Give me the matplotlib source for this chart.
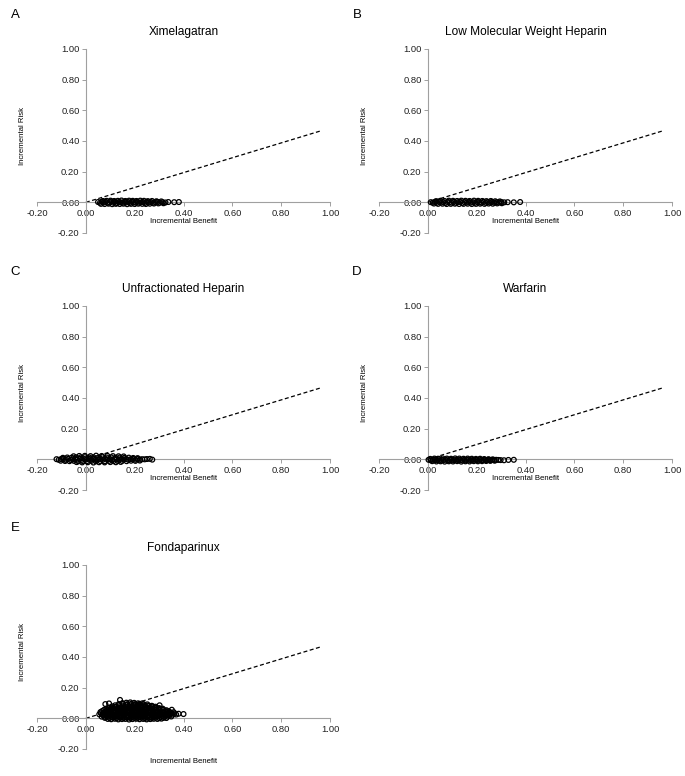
import matplotlib
matplotlib.use("Agg")
import matplotlib.pyplot as plt

plt.rcParams['font.family'] = ['Liberation Sans', 'DejaVu Sans']

# ---------------- data ----------------
titles = ["Ximelagatran", "Low Molecular Weight Heparin", "Unfractionated Heparin",
          "Warfarin", "Fondaparinux"]
letters = ["A", "B", "C", "D", "E"]
tick_values = [-0.20, 0.00, 0.20, 0.40, 0.60, 0.80, 1.00]
tick_labels = ["-0.20", "0.00", "0.20", "0.40", "0.60", "0.80", "1.00"]
threshold_benefit = [0.0, 0.96]
threshold_risk = [0.0, 0.465]

A_benefit = [0.050, 0.058, 0.066, 0.073, 0.081, 0.089, 0.096, 0.104, 0.112, 0.119, 0.127, 0.135,
             0.142, 0.150, 0.158, 0.165, 0.173, 0.181, 0.188, 0.196, 0.204, 0.211, 0.219, 0.227,
             0.234, 0.242, 0.250, 0.258, 0.266, 0.275, 0.284, 0.293, 0.303, 0.314, 0.326, 0.338,
             0.062, 0.077, 0.093, 0.108, 0.123, 0.139, 0.154, 0.169, 0.185, 0.200, 0.215, 0.231,
             0.246, 0.262, 0.279, 0.297, 0.318,
             0.070, 0.085, 0.101, 0.116, 0.131, 0.146, 0.162, 0.177, 0.192, 0.207, 0.223, 0.238,
             0.254, 0.271, 0.289, 0.309,
             0.362, 0.381]
A_risk = [0.002, -0.003, 0.004, -0.001, 0.003, -0.004, 0.001, 0.005, -0.002, 0.003, -0.005, 0.002,
          0.000, -0.003, 0.004, -0.001, 0.002, -0.004, 0.003, 0.001, -0.002, 0.004, -0.003, 0.000,
          0.002, -0.004, 0.003, -0.001, 0.002, -0.003, 0.001, 0.003, -0.002, 0.001, -0.001, 0.002,
          -0.010, -0.011, -0.009, -0.012, -0.010, -0.011, -0.009, -0.012, -0.010, -0.011, -0.009, -0.010,
          -0.011, -0.009, -0.008, -0.007, -0.006,
          0.009, 0.010, 0.011, 0.009, 0.010, 0.012, 0.009, 0.011, 0.010, 0.009, 0.011, 0.010,
          0.008, 0.009, 0.007, 0.006,
          0.001, 0.002]

B_benefit = [0.012, 0.020, 0.029, 0.037, 0.046, 0.055, 0.063, 0.072, 0.081, 0.089, 0.098, 0.107,
             0.115, 0.124, 0.133, 0.141, 0.150, 0.159, 0.167, 0.176, 0.185, 0.193, 0.202, 0.211,
             0.219, 0.228, 0.237, 0.245, 0.254, 0.263, 0.272, 0.281, 0.291, 0.301, 0.313, 0.327,
             0.025, 0.042, 0.060, 0.077, 0.094, 0.111, 0.128, 0.146, 0.163, 0.180, 0.197, 0.214,
             0.232, 0.249, 0.266, 0.284, 0.303,
             0.034, 0.051, 0.068, 0.086, 0.103, 0.120, 0.137, 0.154, 0.171, 0.189, 0.206, 0.223,
             0.240, 0.258, 0.276, 0.295,
             0.352, 0.378]
B_risk = [0.001, -0.002, 0.003, -0.003, 0.004, -0.001, 0.002, -0.004, 0.003, 0.000, -0.002, 0.004,
          -0.003, 0.001, 0.003, -0.004, 0.002, -0.001, 0.004, -0.002, 0.001, -0.003, 0.003, 0.000,
          -0.002, 0.004, -0.003, 0.002, -0.001, 0.003, -0.002, 0.001, -0.001, 0.002, 0.000, 0.001,
          -0.008, -0.010, -0.009, -0.011, -0.010, -0.009, -0.011, -0.010, -0.009, -0.011, -0.010, -0.009,
          -0.010, -0.008, -0.009, -0.007, -0.006,
          0.008, 0.010, 0.009, 0.011, 0.010, 0.009, 0.011, 0.010, 0.009, 0.011, 0.010, 0.009,
          0.008, 0.009, 0.007, 0.006,
          0.000, 0.002]

C_benefit = [-0.120, -0.111, -0.101, -0.092, -0.082, -0.073, -0.063, -0.054, -0.044, -0.035,
             -0.025, -0.016, -0.006, 0.003, 0.013, 0.022, 0.032, 0.041, 0.051, 0.060,
             0.070, 0.079, 0.089, 0.098, 0.108, 0.117, 0.127, 0.136, 0.146, 0.155,
             0.165, 0.174, 0.184, 0.193, 0.203, 0.212, 0.222, 0.231, 0.241, 0.250,
             -0.103, -0.085, -0.067, -0.049, -0.031, -0.013, 0.005, 0.023, 0.041, 0.059,
             0.077, 0.095, 0.113, 0.131, 0.149, 0.167, 0.185, 0.203, 0.221,
             -0.094, -0.076, -0.058, -0.040, -0.022, -0.004, 0.014, 0.032, 0.050, 0.068,
             0.086, 0.104, 0.122, 0.140, 0.158, 0.176, 0.194, 0.212,
             -0.050, -0.027, -0.004, 0.019, 0.042, 0.065, 0.088, 0.111, 0.134, 0.155,
             -0.038, -0.015, 0.008, 0.031, 0.054, 0.077, 0.100, 0.123, 0.143,
             0.262, 0.272]
C_risk = [0.001, -0.003, 0.002, 0.004, -0.002, 0.003, -0.004, 0.001, 0.004, -0.001,
          0.003, -0.003, 0.002, 0.000, 0.004, -0.002, 0.003, -0.004, 0.001, 0.003,
          -0.002, 0.004, -0.001, 0.002, -0.003, 0.003, 0.000, -0.002, 0.004, -0.001,
          0.002, -0.003, 0.001, 0.003, -0.002, 0.002, -0.001, 0.001, 0.000, 0.002,
          -0.009, -0.011, -0.012, -0.010, -0.013, -0.011, -0.012, -0.010, -0.013, -0.011,
          -0.012, -0.010, -0.012, -0.011, -0.010, -0.012, -0.009, -0.010, -0.008,
          0.010, 0.012, 0.011, 0.013, 0.012, 0.014, 0.012, 0.013, 0.011, 0.014,
          0.012, 0.013, 0.011, 0.012, 0.010, 0.011, 0.009, 0.008,
          0.020, 0.022, 0.023, 0.021, 0.024, 0.022, 0.023, 0.021, 0.020, 0.019,
          -0.018, -0.020, -0.019, -0.021, -0.019, -0.020, -0.018, -0.019, -0.017,
          0.003, -0.002]

D_benefit = [0.003, 0.012, 0.020, 0.029, 0.038, 0.046, 0.055, 0.064, 0.072, 0.081, 0.090, 0.098,
             0.107, 0.116, 0.124, 0.133, 0.142, 0.150, 0.159, 0.168, 0.176, 0.185, 0.194, 0.202,
             0.211, 0.220, 0.228, 0.237, 0.246, 0.254, 0.263, 0.272, 0.280, 0.289, 0.298,
             0.018, 0.035, 0.052, 0.069, 0.086, 0.103, 0.120, 0.137, 0.154, 0.171, 0.188, 0.205,
             0.222, 0.239, 0.256, 0.274,
             0.010, 0.027, 0.044, 0.061, 0.078, 0.095, 0.112, 0.129, 0.146, 0.163, 0.180, 0.197,
             0.214, 0.231, 0.249, 0.266,
             0.312, 0.330, 0.352]
D_risk = [-0.003, -0.006, -0.002, -0.005, -0.004, -0.007, -0.003, -0.005, -0.002, -0.006, -0.004, -0.003,
          -0.006, -0.002, -0.005, -0.004, -0.007, -0.003, -0.005, -0.002, -0.006, -0.004, -0.003, -0.005,
          -0.002, -0.006, -0.004, -0.005, -0.003, -0.006, -0.004, -0.005, -0.003, -0.004, -0.005,
          -0.012, -0.014, -0.013, -0.015, -0.013, -0.014, -0.012, -0.015, -0.013, -0.014, -0.012, -0.013,
          -0.012, -0.011, -0.010, -0.009,
          0.003, 0.005, 0.004, 0.006, 0.005, 0.004, 0.006, 0.005, 0.004, 0.005, 0.004, 0.003,
          0.004, 0.002, 0.001, 0.000,
          -0.006, -0.004, -0.003]

E_benefit = [0.090, 0.104, 0.119, 0.133, 0.148, 0.162, 0.177, 0.191, 0.206, 0.220, 0.235, 0.249,
             0.264, 0.278, 0.293, 0.310,
             0.065, 0.079, 0.093, 0.107, 0.121, 0.136, 0.150, 0.164, 0.178, 0.192, 0.207, 0.221,
             0.235, 0.249, 0.263, 0.278, 0.292, 0.306, 0.320, 0.335, 0.350,
             0.055, 0.069, 0.083, 0.098, 0.112, 0.126, 0.141, 0.155, 0.169, 0.184, 0.198, 0.212,
             0.227, 0.241, 0.255, 0.270, 0.284, 0.298, 0.313, 0.327, 0.341, 0.356, 0.370,
             0.060, 0.074, 0.089, 0.103, 0.117, 0.132, 0.146, 0.160, 0.175, 0.189, 0.203, 0.218,
             0.232, 0.246, 0.261, 0.275, 0.289, 0.304, 0.318, 0.332, 0.346, 0.360,
             0.075, 0.089, 0.103, 0.117, 0.131, 0.146, 0.160, 0.174, 0.188, 0.202, 0.217, 0.231,
             0.245, 0.259, 0.273, 0.288, 0.302, 0.316, 0.330,
             0.095, 0.110, 0.124, 0.139, 0.154, 0.168, 0.183, 0.198, 0.212, 0.227, 0.242, 0.256,
             0.271, 0.286, 0.300,
             0.120, 0.135, 0.150, 0.165, 0.180, 0.195, 0.210, 0.225, 0.240, 0.255, 0.270,
             0.150, 0.166, 0.182, 0.198, 0.214, 0.230,
             0.080, 0.095, 0.140, 0.380, 0.400, 0.352, 0.302,
             0.072, 0.086, 0.100, 0.114, 0.128, 0.143, 0.157, 0.171, 0.185, 0.200, 0.214, 0.228,
             0.242, 0.256, 0.271, 0.285, 0.299, 0.313, 0.328, 0.343,
             0.062, 0.076, 0.091, 0.105, 0.119, 0.133, 0.148, 0.162, 0.177, 0.191, 0.205, 0.220,
             0.234, 0.248, 0.263, 0.277, 0.291, 0.306, 0.320, 0.334, 0.349, 0.363,
             0.067, 0.082, 0.096, 0.110, 0.124, 0.139, 0.153, 0.167, 0.181, 0.196, 0.210, 0.224,
             0.239, 0.253, 0.267, 0.282, 0.296, 0.311, 0.325, 0.339,
             0.085, 0.100, 0.114, 0.128, 0.143, 0.157, 0.171, 0.186, 0.200, 0.214, 0.229, 0.243,
             0.257, 0.272, 0.286, 0.300, 0.315,
             0.108, 0.123, 0.138, 0.153, 0.168, 0.183, 0.198, 0.213, 0.228, 0.243, 0.258, 0.273, 0.285,
             0.135, 0.152, 0.169, 0.186, 0.203, 0.220, 0.237, 0.252,
             0.078, 0.097, 0.112, 0.126, 0.141, 0.155, 0.170, 0.184, 0.199, 0.213, 0.228, 0.242,
             0.257, 0.271, 0.286, 0.301, 0.318, 0.330]
E_risk = [-0.004, -0.006, -0.003, -0.007, -0.005, -0.004, -0.008, -0.005, -0.003, -0.006, -0.004, -0.007,
          -0.005, -0.003, -0.004, -0.002,
          0.011, 0.009, 0.012, 0.008, 0.010, 0.013, 0.009, 0.011, 0.008, 0.012, 0.010, 0.009,
          0.013, 0.010, 0.008, 0.011, 0.012, 0.009, 0.010, 0.011, 0.012,
          0.026, 0.024, 0.027, 0.023, 0.025, 0.028, 0.024, 0.026, 0.023, 0.027, 0.025, 0.024,
          0.028, 0.025, 0.023, 0.026, 0.024, 0.027, 0.025, 0.023, 0.026, 0.024, 0.025,
          0.041, 0.039, 0.042, 0.038, 0.040, 0.043, 0.039, 0.041, 0.038, 0.042, 0.040, 0.039,
          0.043, 0.040, 0.038, 0.041, 0.042, 0.039, 0.040, 0.041, 0.039, 0.040,
          0.056, 0.054, 0.057, 0.053, 0.055, 0.058, 0.054, 0.056, 0.053, 0.057, 0.055, 0.054,
          0.058, 0.055, 0.053, 0.056, 0.054, 0.055, 0.053,
          0.071, 0.069, 0.072, 0.068, 0.070, 0.073, 0.069, 0.071, 0.068, 0.072, 0.070, 0.069,
          0.071, 0.068, 0.067,
          0.085, 0.087, 0.084, 0.088, 0.086, 0.089, 0.085, 0.087, 0.084, 0.083, 0.082,
          0.099, 0.102, 0.104, 0.101, 0.098, 0.097,
          0.093, 0.097, 0.120, 0.030, 0.028, 0.056, 0.085,
          0.018, 0.016, 0.019, 0.017, 0.018, 0.016, 0.019, 0.017, 0.018, 0.016, 0.019, 0.017,
          0.018, 0.016, 0.019, 0.017, 0.018, 0.016, 0.017, 0.018,
          0.033, 0.031, 0.034, 0.032, 0.033, 0.031, 0.034, 0.032, 0.033, 0.031, 0.034, 0.032,
          0.033, 0.031, 0.034, 0.032, 0.033, 0.031, 0.034, 0.032, 0.033, 0.031,
          0.048, 0.046, 0.049, 0.047, 0.048, 0.046, 0.049, 0.047, 0.048, 0.046, 0.049, 0.047,
          0.048, 0.046, 0.049, 0.047, 0.048, 0.046, 0.049, 0.047,
          0.063, 0.061, 0.064, 0.062, 0.063, 0.061, 0.064, 0.062, 0.063, 0.061, 0.064, 0.062,
          0.063, 0.061, 0.064, 0.062, 0.063,
          0.078, 0.076, 0.079, 0.077, 0.078, 0.076, 0.079, 0.077, 0.078, 0.076, 0.079, 0.077, 0.076,
          0.093, 0.094, 0.092, 0.095, 0.093, 0.094, 0.092, 0.091,
          0.003, 0.002, 0.004, 0.001, 0.003, 0.002, 0.004, 0.001, 0.003, 0.002, 0.004, 0.001,
          0.003, 0.002, 0.004, 0.001, 0.003, 0.002]

benefits = [A_benefit, B_benefit, C_benefit, D_benefit, E_benefit]
risks = [A_risk, B_risk, C_risk, D_risk, E_risk]

# ---------------- layout (pixels) ----------------
W, H = 685, 776
panel_px = [(37, 233), (379, 233), (37, 490), (379, 490), (37, 749)]  # left, bottom
letter_px = [(15, 15), (357, 15), (15, 272), (357, 272), (15, 528)]
xlabel_y = [-0.127, -0.127, -0.127, -0.127, -0.282]
AW, AH = 293, 184

fig = plt.figure(figsize=(W / 100, H / 100), dpi=100)
axis_gray = "#a0a0a0"

for i in range(5):
    lx, by = panel_px[i]
    ax = fig.add_axes([lx / W, 1 - by / H, AW / W, AH / H])
    ax.set_xlim(-0.2, 1.0)
    ax.set_ylim(-0.2, 1.0)
    for s in ("top", "right"):
        ax.spines[s].set_visible(False)
    for s in ("left", "bottom"):
        ax.spines[s].set_position(("data", 0))
        ax.spines[s].set_color(axis_gray)
        ax.spines[s].set_linewidth(0.8)
    ax.set_xticks(tick_values)
    ax.set_xticklabels(tick_labels)
    ax.set_yticks(tick_values)
    ax.set_yticklabels(tick_labels)
    ax.tick_params(axis="both", direction="out", length=3, width=0.7, color=axis_gray,
                   labelsize=6.8, labelcolor="#222222", pad=1.5)
    ax.patch.set_alpha(0)

    ax.plot(threshold_benefit, threshold_risk, color="black", lw=0.9,
            linestyle=(0, (3.2, 2.0)), zorder=2)
    ax.scatter(benefits[i], risks[i], s=12, facecolors="none", edgecolors="black",
               linewidths=0.9, zorder=3)

    ax.set_title(titles[i], fontsize=8.6, pad=10)
    ax.text(0.4, xlabel_y[i], "Incremental Benefit", fontsize=5.6, ha="center", va="center",
            clip_on=False)
    ax.text(-0.258, 0.43, "Incremental Risk", fontsize=5.6, ha="center", va="center",
            rotation=90, clip_on=False)

    fx, fy = letter_px[i]
    fig.text(fx / W, 1 - fy / H, letters[i], fontsize=9.5, ha="center", va="center")

fig.savefig("out.png", dpi=100)
